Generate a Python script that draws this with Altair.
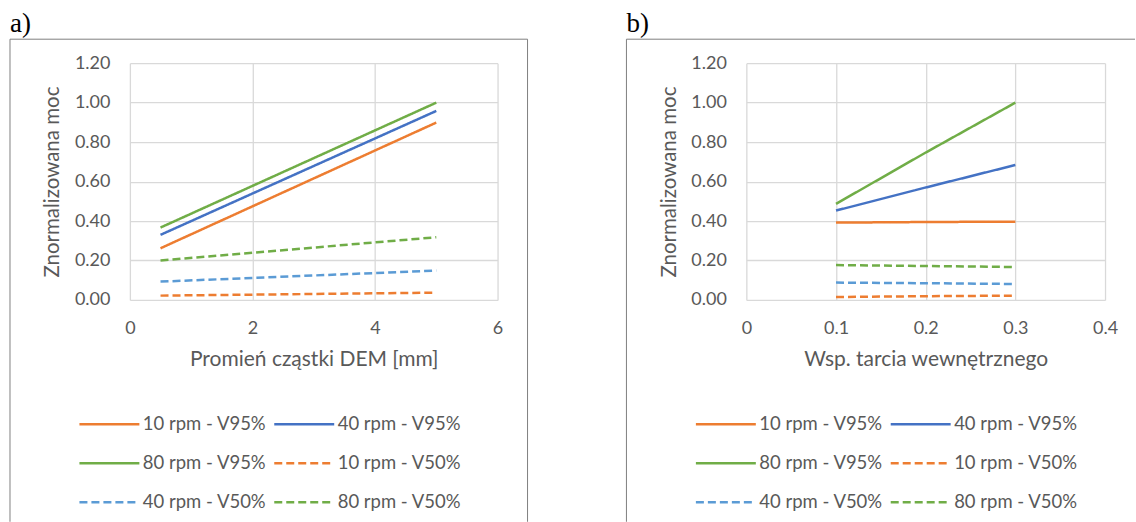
import altair as alt
import pandas as pd

# ---------------- data ----------------
series_names = ["10 rpm - V95%", "40 rpm - V95%", "80 rpm - V95%",
                "10 rpm - V50%", "40 rpm - V50%", "80 rpm - V50%"]
series_colors = ["#ED7D31", "#4472C4", "#70AD47", "#ED7D31", "#5B9BD5", "#70AD47"]
series_dash = [[1, 0], [1, 0], [1, 0], [8, 4], [8, 4], [8, 4]]

# panel a) — particle radius [mm]
radius_mm = [0.5, 5.0]
a_10_v95 = [0.262, 0.899]
a_40_v95 = [0.330, 0.958]
a_80_v95 = [0.367, 1.000]
a_10_v50 = [0.022, 0.037]
a_40_v50 = [0.093, 0.149]
a_80_v50 = [0.200, 0.318]

# panel b) — internal friction coefficient
friction = [0.1, 0.2, 0.3]
b_10_v95 = [0.392, 0.395, 0.397]
b_40_v95 = [0.453, 0.570, 0.684]
b_80_v95 = [0.487, 0.747, 1.000]
b_10_v50 = [0.015, 0.019, 0.022]
b_40_v50 = [0.088, 0.085, 0.081]
b_80_v50 = [0.177, 0.172, 0.167]

y_ticks = [0, 0.2, 0.4, 0.6, 0.8, 1.0, 1.2]
a_x_ticks = [0, 2, 4, 6]
b_x_ticks = [0, 0.1, 0.2, 0.3, 0.4]


def long_df(xs, ys_list):
    rows = []
    for name, ys in zip(series_names, ys_list):
        for x, y in zip(xs, ys):
            rows.append({"x": x, "y": y, "series": name})
    return pd.DataFrame(rows)


df_a = long_df(radius_mm, [a_10_v95, a_40_v95, a_80_v95, a_10_v50, a_40_v50, a_80_v50])
df_b = long_df(friction, [b_10_v95, b_40_v95, b_80_v95, b_10_v50, b_40_v50, b_80_v50])

FONT = "Lato"
TXT = "#595959"
GRID = "#d9d9d9"
PH = 237  # plot height


def panel(df, xdomain, xticks, xtitle, width, letter, label_expr, box_right):
    legend = alt.Legend(
        orient="none", legendX=-32, legendY=350, columns=2, direction="horizontal",
        title=None,
        symbolType="M-3,0H3", symbolSize=400, symbolStrokeWidth=2.5,
        labelFont=FONT, labelFontSize=18.5, labelColor=TXT, labelOffset=22,
        columnPadding=2, rowPadding=18,
    )
    lines = alt.Chart(df).mark_line(strokeWidth=2.5, clip=False).encode(
        x=alt.X("x:Q",
                scale=alt.Scale(domain=xdomain, nice=False, zero=False),
                axis=alt.Axis(values=xticks, title=xtitle, labelExpr=label_expr,
                              grid=True, gridColor=GRID, gridWidth=1.3,
                              domain=False, ticks=False, labelPadding=20,
                              labelFlush=False,
                              labelFont=FONT, labelFontSize=18, labelColor=TXT,
                              titleFont=FONT, titleFontSize=21, titleColor=TXT,
                              titleFontWeight="normal", titleX=width / 2, titleY=60,
                              titleBaseline="middle", titleAlign="center")),
        y=alt.Y("y:Q",
                scale=alt.Scale(domain=[0, 1.2], nice=False),
                axis=alt.Axis(values=y_ticks, format=".2f", title="Znormalizowana moc",
                              grid=True, gridColor=GRID, gridWidth=1.3,
                              domain=False, ticks=False, labelPadding=20,
                              labelFlush=False,
                              labelFont=FONT, labelFontSize=18, labelColor=TXT,
                              titleFont=FONT, titleFontSize=20.5, titleColor=TXT,
                              titleFontWeight="normal", titleAngle=270,
                              titleX=-77, titleY=PH / 2,
                              titleBaseline="middle", titleAlign="center")),
        color=alt.Color("series:N",
                        scale=alt.Scale(domain=series_names, range=series_colors),
                        legend=legend),
        strokeDash=alt.StrokeDash("series:N",
                                  scale=alt.Scale(domain=series_names, range=series_dash),
                                  legend=legend),
    )
    one = pd.DataFrame({"k": [0]})
    deco = alt.Chart(one)
    box = [
        deco.mark_rule(color="#7f7f7f", strokeWidth=1).encode(
            x=alt.value(-120), y=alt.value(-24), y2=alt.value(459)),
        deco.mark_rule(color="#7f7f7f", strokeWidth=1).encode(
            x=alt.value(-120), x2=alt.value(box_right), y=alt.value(-24)),
    ]
    txt = deco.mark_text(font="Liberation Serif", fontSize=27, color="black",
                         align="left", baseline="alphabetic").encode(
        x=alt.value(-120), y=alt.value(-31), text=alt.value(letter))
    layers = [lines] + box + [txt]
    return alt.layer(*layers)


pa = panel(df_a, [0, 6], a_x_ticks, "Promień cząstki DEM [mm]", 368, "a)",
           "datum.value", 398)
pa_extra = alt.Chart(pd.DataFrame({"k": [0]})).mark_rule(
    color="#7f7f7f", strokeWidth=1).encode(
    x=alt.value(398), y=alt.value(-24), y2=alt.value(459))
anchor = alt.Chart(pd.DataFrame({"k": [0]})).mark_rule(opacity=0, strokeWidth=0).encode(
    x=alt.value(-130), y=alt.value(-63), y2=alt.value(459))
pa = alt.layer(pa, pa_extra, anchor).properties(width=368, height=PH)

pb = panel(df_b, [0, 0.4], b_x_ticks, "Wsp. tarcia wewnętrznego", 359, "b)",
           "datum.value == 0 ? '0' : format(datum.value, '.1f')", 389)
pb = pb.properties(width=359, height=PH)

chart = alt.hconcat(pa, pb, spacing=249, bounds="flush").resolve_scale(
    color="independent", strokeDash="independent"
).resolve_legend(
    color="independent", strokeDash="independent"
).properties(
    padding=0, background="white"
).configure_view(strokeWidth=0)

chart.save("out.html", embed_options={"renderer": "svg", "actions": False})
